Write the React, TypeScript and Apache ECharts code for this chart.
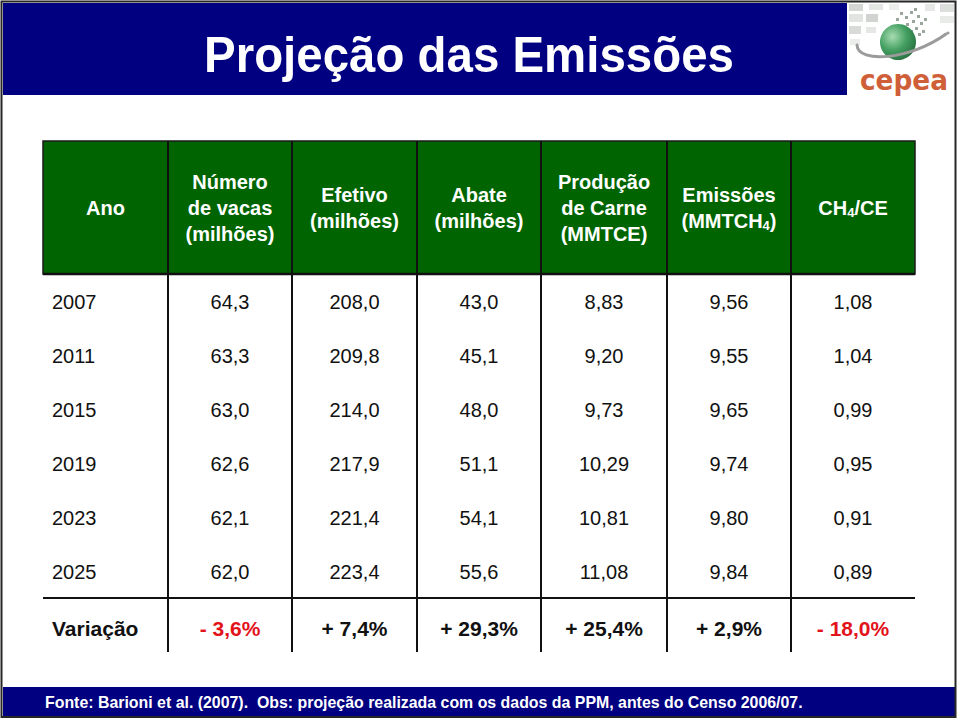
import React, { useEffect, useRef } from 'react';
import * as echarts from 'echarts';

// ---------- data ----------
const TITLE = 'Projeção das Emissões';
const SOURCE_NOTE =
  'Fonte: Barioni et al. (2007).  Obs: projeção realizada com os dados da PPM, antes do Censo 2006/07.';
const LOGO_TEXT = 'cepea';

const HEADERS = [
  'Ano',
  'Número\nde vacas\n(milhões)',
  'Efetivo\n(milhões)',
  'Abate\n(milhões)',
  'Produção\nde Carne\n(MMTCE)',
  '{h|Emissões}\n{h|(MMTCH}{s|4}{h|)}',
  '{h|CH}{s|4}{h|/CE}',
];

const YEARS = ['2007', '2011', '2015', '2019', '2023', '2025'];
const VACAS = [64.3, 63.3, 63.0, 62.6, 62.1, 62.0];
const EFETIVO = [208.0, 209.8, 214.0, 217.9, 221.4, 223.4];
const ABATE = [43.0, 45.1, 48.0, 51.1, 54.1, 55.6];
const PRODUCAO = [8.83, 9.2, 9.73, 10.29, 10.81, 11.08];
const EMISSOES = [9.56, 9.55, 9.65, 9.74, 9.8, 9.84];
const CH4_CE = [1.08, 1.04, 0.99, 0.95, 0.91, 0.89];
const DECIMALS = [1, 1, 1, 2, 2, 2];

const VARIATION_LABEL = 'Variação';
const VARIATION = [-3.6, 7.4, 29.3, 25.4, 2.9, -18.0];

// ---------- layout ----------
const COL_EDGES = [43, 168, 292, 417, 541, 667, 791, 915];
const HEADER_TOP = 141;
const HEADER_BOTTOM = 274;
const FIRST_ROW_Y = 302;
const ROW_PITCH = 54;
const VAR_LINE_Y = 598;
const VAR_Y = 628;
const BODY_BOTTOM = 652;

const NAVY = '#000080';
const GREEN = '#006400';
const RED = '#e3131b';
const FAMILY = 'Liberation Sans, Arial, Helvetica, sans-serif';
const LOGO_FAMILY = 'DejaVu Sans, sans-serif';

const fmt = (v: number, d: number) => v.toFixed(d).replace('.', ',');
const fmtVar = (v: number) => (v < 0 ? '- ' : '+ ') + fmt(Math.abs(v), 1) + '%';

function measure(text: string, font: string): number {
  const c = document.createElement('canvas').getContext('2d');
  if (!c) return 0;
  c.font = font;
  return c.measureText(text).width;
}

const txt = (size: number, weight: string, fill: string, extra: any = {}) => ({
  fill,
  fontFamily: FAMILY,
  fontSize: size,
  fontWeight: weight,
  ...extra,
});

export default function App() {
  const ref = useRef<HTMLDivElement>(null);

  useEffect(() => {
    if (!ref.current) return;
    const chart = echarts.init(ref.current, null, { renderer: 'svg' });

    const titleW = measure(TITLE, `bold 49px "Liberation Sans", Arial, sans-serif`) || 530;
    const titleScale = 530 / titleW;
    const noteW = measure(SOURCE_NOTE, `bold 16px "Liberation Sans", Arial, sans-serif`) || 758;
    const noteScale = 758 / noteW;
    const logoW = measure(LOGO_TEXT, `bold 29px "DejaVu Sans", sans-serif`) || 88;
    const logoScale = 88 / logoW;

    const els: any[] = [];

    // backgrounds
    els.push({ type: 'rect', shape: { x: 0, y: 0, width: 960, height: 719 }, style: { fill: '#ffffff' }, z: 0 });
    els.push({ type: 'rect', shape: { x: 3, y: 3, width: 844, height: 92 }, style: { fill: NAVY }, z: 1 });
    els.push({ type: 'rect', shape: { x: 3, y: 687, width: 952, height: 29 }, style: { fill: NAVY }, z: 1 });

    // logo
    const checks = [
      [849, 4, 14, 7, '#d3d6d3'], [869, 4, 14, 6, '#e4e6e4'], [889, 4, 10, 6, '#eceeec'],
      [849, 14, 14, 8, '#e2e4e2'], [866, 14, 12, 8, '#d0d3d0'], [849, 26, 12, 8, '#d8dbd8'],
      [866, 27, 10, 6, '#e6e8e6'], [850, 39, 10, 6, '#eceeec'], [925, 4, 10, 7, '#e6e8e6'],
      [940, 4, 14, 8, '#dcdfdc'], [940, 16, 14, 7, '#e9ebe9'],
    ];
    checks.forEach(([x, y, w, h, c]) =>
      els.push({ type: 'rect', shape: { x, y, width: w, height: h }, style: { fill: c }, z: 2 })
    );
    const dots = [
      [900, 12], [905, 16], [910, 11], [912, 20], [917, 15], [906, 23], [915, 27], [920, 22],
      [896, 18], [902, 28], [918, 33], [910, 30], [922, 30], [914, 8], [924, 18],
    ];
    dots.forEach(([x, y]) =>
      els.push({ type: 'rect', shape: { x, y, width: 3, height: 3 }, style: { fill: '#9aa59c' }, z: 3 })
    );
    els.push({
      type: 'circle',
      shape: { cx: 898, cy: 42, r: 18 },
      style: {
        fill: {
          type: 'radial', x: 0.35, y: 0.35, r: 0.85,
          colorStops: [
            { offset: 0, color: '#a8dcb2' },
            { offset: 0.45, color: '#45a062' },
            { offset: 1, color: '#1b5e33' },
          ],
        },
      },
      z: 4,
    });
    els.push({
      type: 'bezierCurve',
      shape: { x1: 857, y1: 45, cpx1: 858, cpy1: 64, cpx2: 910, cpy2: 60, x2: 946, y2: 34 },
      style: { stroke: '#9b9b9b', lineWidth: 3, fill: null, lineCap: 'round' },
      z: 5,
    });
    els.push({ type: 'circle', shape: { cx: 948, cy: 33, r: 1.5 }, style: { fill: '#9b9b9b' }, z: 5 });
    els.push({
      type: 'text', x: 904, y: 80, scaleX: logoScale, z: 5,
      style: {
        text: LOGO_TEXT, fill: '#cf5f38', fontFamily: LOGO_FAMILY, fontSize: 29, fontWeight: 'bold',
        align: 'center', verticalAlign: 'middle',
      },
    });

    // title
    els.push({
      type: 'text', x: 469, y: 55, scaleX: titleScale, z: 6,
      style: { text: TITLE, ...txt(49, 'bold', '#ffffff'), align: 'center', verticalAlign: 'middle' },
    });

    // header block
    const x0 = COL_EDGES[0];
    const xN = COL_EDGES[COL_EDGES.length - 1];
    els.push({
      type: 'rect',
      shape: { x: x0, y: HEADER_TOP, width: xN - x0, height: HEADER_BOTTOM - HEADER_TOP },
      style: { fill: GREEN, stroke: '#1a1a1a', lineWidth: 1.5 },
      z: 2,
    });
    for (let i = 1; i < COL_EDGES.length - 1; i++) {
      els.push({
        type: 'line',
        shape: { x1: COL_EDGES[i], y1: HEADER_TOP, x2: COL_EDGES[i], y2: BODY_BOTTOM },
        style: { stroke: '#111111', lineWidth: 2 },
        z: 3,
      });
    }
    els.push({
      type: 'line', shape: { x1: x0, y1: HEADER_BOTTOM, x2: xN, y2: HEADER_BOTTOM },
      style: { stroke: '#111111', lineWidth: 2.5 }, z: 3,
    });
    els.push({
      type: 'line', shape: { x1: x0, y1: VAR_LINE_Y, x2: xN, y2: VAR_LINE_Y },
      style: { stroke: '#111111', lineWidth: 2 }, z: 3,
    });

    const headerY = (HEADER_TOP + HEADER_BOTTOM) / 2;
    HEADERS.forEach((h, i) => {
      const cx = (COL_EDGES[i] + COL_EDGES[i + 1]) / 2;
      const rich = h.includes('{');
      els.push({
        type: 'text', x: cx, y: headerY, z: 6,
        style: {
          text: h, ...txt(20, 'bold', '#ffffff'), lineHeight: 26,
          align: 'center', verticalAlign: 'middle',
          ...(rich
            ? {
                rich: {
                  h: txt(20, 'bold', '#ffffff', { lineHeight: 26 }),
                  s: txt(13, 'bold', '#ffffff', { lineHeight: 26, padding: [10, 0, 0, 0] }),
                },
              }
            : {}),
        },
      });
    });

    // body
    const columns = [VACAS, EFETIVO, ABATE, PRODUCAO, EMISSOES, CH4_CE];
    YEARS.forEach((yr, r) => {
      const y = FIRST_ROW_Y + r * ROW_PITCH;
      els.push({
        type: 'text', x: 52, y, z: 6,
        style: { text: yr, ...txt(20, 'normal', '#111111'), align: 'left', verticalAlign: 'middle' },
      });
      columns.forEach((col, c) => {
        const cx = (COL_EDGES[c + 1] + COL_EDGES[c + 2]) / 2;
        els.push({
          type: 'text', x: cx, y, z: 6,
          style: {
            text: fmt(col[r], DECIMALS[c]), ...txt(20, 'normal', '#111111'),
            align: 'center', verticalAlign: 'middle',
          },
        });
      });
    });

    els.push({
      type: 'text', x: 52, y: VAR_Y, z: 6,
      style: { text: VARIATION_LABEL, ...txt(21, 'bold', '#111111'), align: 'left', verticalAlign: 'middle' },
    });
    VARIATION.forEach((v, c) => {
      const cx = (COL_EDGES[c + 1] + COL_EDGES[c + 2]) / 2;
      els.push({
        type: 'text', x: cx, y: VAR_Y, z: 6,
        style: {
          text: fmtVar(v), ...txt(21, 'bold', v < 0 ? RED : '#111111'),
          align: 'center', verticalAlign: 'middle',
        },
      });
    });

    // footer note
    els.push({
      type: 'text', x: 45, y: 702, scaleX: noteScale, z: 6,
      style: { text: SOURCE_NOTE, ...txt(16, 'bold', '#ffffff'), align: 'left', verticalAlign: 'middle' },
    });

    // slide frame
    els.push({
      type: 'rect', shape: { x: 1.5, y: 1.5, width: 954, height: 715.5 },
      style: { fill: null, stroke: '#262626', lineWidth: 2 }, z: 10,
    });

    chart.setOption({ animation: false, graphic: { elements: els } });
    return () => chart.dispose();
  }, []);

  return (
    <div
      ref={ref}
      style={{ position: 'fixed', left: 0, top: 0, width: 960, height: 719, background: '#fff' }}
    />
  );
}
